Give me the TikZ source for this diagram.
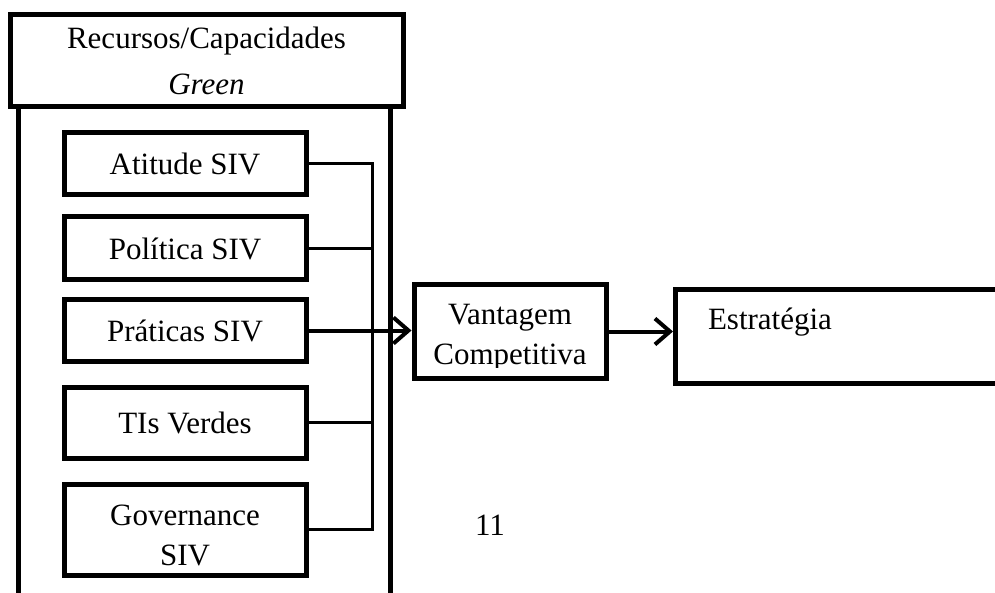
\documentclass[tikz,border=0pt]{standalone}
\usepackage{fontspec}
\setmainfont{Liberation Serif}
\usetikzlibrary{positioning,arrows.meta}
\tikzset{
  box/.style={draw,line width=5pt,rectangle,align=center,inner sep=0pt},
  link/.style={line width=3pt},
  col/.style={line width=4.5pt},
  flow/.style={line width=4pt,-{Straight Barb[length=15pt,width=26pt]}},
}
\begin{document}
\begin{tikzpicture}[x=1pt,y=-1pt,font=\fontsize{31}{40}\selectfont]
\useasboundingbox (0,0) rectangle (995,593);
% header and the open column below it
\node[box,minimum width=393pt,minimum height=92pt] (head) at (206.5,61) {Recursos/Capacidades\\[6pt]\textit{Green}};
\draw[col] ([xshift=11pt]head.south west) -- ++(0,490);
\draw[col] ([xshift=-15pt]head.south east) -- ++(0,490);
% green resources
\foreach \n/\t/\y/\h in {
 atit/{Atitude SIV}/164/62,
 pol/{Política SIV}/248.5/63,
 prat/{Práticas SIV}/330.5/61,
 tis/{TIs Verdes}/422.5/71,
 gov/{}/529.5/91}{
  \node[box,minimum width=242pt,minimum height=\h pt] (\n) at (185,\y) {\t};
}
\begin{scope}
  \clip (gov.north west) rectangle ([yshift=9pt]gov.south east);
  \node[align=center,yshift=-6pt] (govtxt) at (gov) {Governance\\SIV};
\end{scope}
\coordinate (bus) at (372,0);
\draw[link] (atit.east) -| (bus |- gov.east) -- (gov.east);
\foreach \n in {pol,tis}
  \draw[link] (\n.east) -- (\n.east -| bus);
% outcome chain
\node[box,minimum width=192pt,minimum height=93pt] (vant) at (510,331.5) {};
\begin{scope}
  \clip (vant.north west) rectangle ([yshift=13pt]vant.south east);
  \node[align=center,yshift=-6pt] (vanttxt) at (vant) {Vantagem\\Competitiva};
\end{scope}
\node[box,minimum width=340pt,minimum height=93pt,anchor=west] (estrbox) at (673,336.5) {};
\node (estr) at (770,322) {Estratégia};
\draw[flow] (prat.east) -- (prat.east -| vant.west);
\draw[flow] (vant.east) -- (vant.east -| estrbox.west);
\node (pag) at (490,525) {11};
\end{tikzpicture}
\end{document}
